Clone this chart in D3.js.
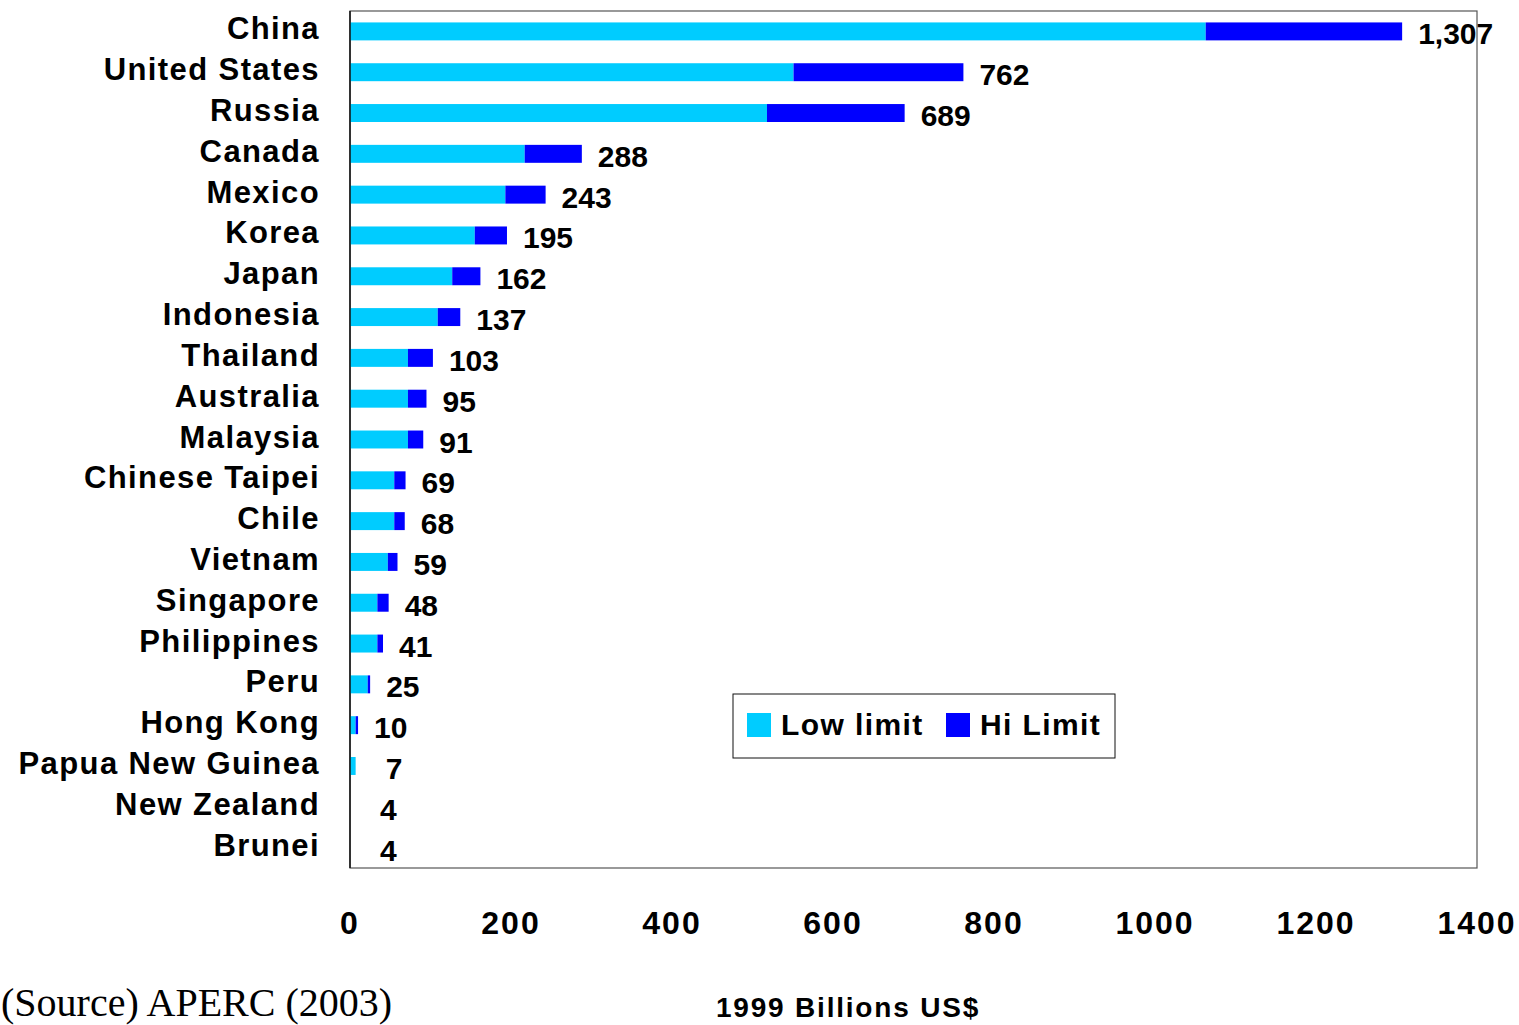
<!DOCTYPE html>
<html>
<head>
<meta charset="utf-8">
<script src="https://cdn.jsdelivr.net/npm/d3@7"></script>
<style>
  body { margin: 0; background: #fff; }
  text { font-family: "Liberation Sans", Arial, sans-serif; font-weight: bold; fill: #000; }
</style>
</head>
<body>
<script>
var economies = ["China", "United States", "Russia", "Canada", "Mexico", "Korea", "Japan",
    "Indonesia", "Thailand", "Australia", "Malaysia", "Chinese Taipei", "Chile", "Vietnam",
    "Singapore", "Philippines", "Peru", "Hong Kong", "Papua New Guinea", "New Zealand", "Brunei"];

// low limit, and the extra amount up to the hi limit (billions, 1999 US$)
var lowLimit = [1063, 551, 518, 217, 193, 155, 127, 109, 72, 72, 72, 55, 55, 47, 34, 34, 22, 7, 7, 0, 0];
var hiExtra  = [244, 211, 171, 71, 50, 40, 35, 28, 31, 23, 19, 14, 13, 12, 14, 7, 3, 3, 0, 0, 0];
var totals   = [1307, 762, 689, 288, 243, 195, 162, 137, 103, 95, 91, 69, 68, 59, 48, 41, 25, 10, 7, 4, 4];

var xTicks = [0, 200, 400, 600, 800, 1000, 1200, 1400];
var seriesNames = ["Low limit", "Hi Limit"];
var colors = ["#00ccff", "#0000ff"];

var width = 1519,
    height = 1025,
    plotLeft = 350, plotRight = 1477, plotTop = 11, plotBottom = 868;

var formatNumber = d3.format(",d");

var x = d3.scaleLinear()
    .domain([0, 1400])
    .range([plotLeft, plotRight]);

var y = d3.scaleBand()
    .domain(economies)
    .range([plotTop, plotBottom])
    .paddingInner(0.56)
    .paddingOuter(0.28);

var rows = economies.map(function(name, i) {
  return {name: name, low: lowLimit[i], hi: hiExtra[i], total: totals[i]};
});

var stack = d3.stack().keys(["low", "hi"]);
var layers = stack(rows);

var svg = d3.select("body").append("svg")
    .attr("width", width)
    .attr("height", height);

// plot frame
svg.append("rect")
    .attr("x", plotLeft)
    .attr("y", plotTop)
    .attr("width", plotRight - plotLeft)
    .attr("height", plotBottom - plotTop)
    .attr("fill", "none")
    .attr("stroke", "#555")
    .attr("stroke-width", 1.2);

svg.selectAll("g.layer")
    .data(layers)
  .enter().append("g")
    .attr("class", "layer")
    .attr("fill", function(d, i) { return colors[i]; })
  .selectAll("rect")
    .data(function(d) { return d; })
  .enter().append("rect")
    .attr("x", function(d) { return x(d[0]); })
    .attr("y", function(d) { return y(d.data.name); })
    .attr("width", function(d) { return x(d[1]) - x(d[0]); })
    .attr("height", y.bandwidth());

// left axis line
svg.append("line")
    .attr("x1", plotLeft).attr("x2", plotLeft)
    .attr("y1", plotTop).attr("y2", plotBottom)
    .attr("stroke", "#111")
    .attr("stroke-width", 1.5);

// category labels
svg.selectAll("text.cat")
    .data(economies)
  .enter().append("text")
    .attr("class", "cat")
    .attr("x", 320)
    .attr("y", function(d) { return y(d) + y.bandwidth() / 2 + 8; })
    .attr("text-anchor", "end")
    .style("font-size", "31px")
    .style("letter-spacing", "1.4px")
    .text(function(d) { return d; });

// value labels
svg.selectAll("text.val")
    .data(rows)
  .enter().append("text")
    .attr("class", "val")
    .attr("x", function(d) { return x(d.low + d.hi) + (d.low + d.hi < 10 ? 30 : 16); })
    .attr("y", function(d) { return y(d.name) + y.bandwidth() / 2 + 13; })
    .style("font-size", "30px")
    .text(function(d) { return formatNumber(d.total); });

// x tick labels
svg.selectAll("text.xtick")
    .data(xTicks)
  .enter().append("text")
    .attr("class", "xtick")
    .attr("x", function(d) { return x(d); })
    .attr("y", 934)
    .attr("text-anchor", "middle")
    .style("font-size", "32px")
    .style("letter-spacing", "2px")
    .text(function(d) { return d; });

svg.append("text")
    .attr("x", 848)
    .attr("y", 1017)
    .attr("text-anchor", "middle")
    .style("font-size", "28px")
    .style("letter-spacing", "1.8px")
    .text("1999 Billions US$");

svg.append("text")
    .attr("x", 1)
    .attr("y", 1016)
    .style("font-family", "'Liberation Serif', 'DejaVu Serif', serif")
    .style("font-weight", "normal")
    .style("font-size", "40px")
    .text("(Source) APERC (2003)");

// legend
var legend = svg.append("g");
legend.append("rect")
    .attr("x", 733).attr("y", 694)
    .attr("width", 382).attr("height", 64)
    .attr("fill", "#fff")
    .attr("stroke", "#111")
    .attr("stroke-width", 1);

var legendX = [747, 946];
var items = legend.selectAll("g.item")
    .data(seriesNames)
  .enter().append("g")
    .attr("class", "item")
    .attr("transform", function(d, i) { return "translate(" + legendX[i] + ",713)"; });

items.append("rect")
    .attr("width", 24).attr("height", 24)
    .attr("fill", function(d, i) { return colors[i]; });

items.append("text")
    .attr("x", 34)
    .attr("y", 22)
    .style("font-size", "30px")
    .style("letter-spacing", "1.4px")
    .text(function(d) { return d; });
</script>
</body>
</html>
